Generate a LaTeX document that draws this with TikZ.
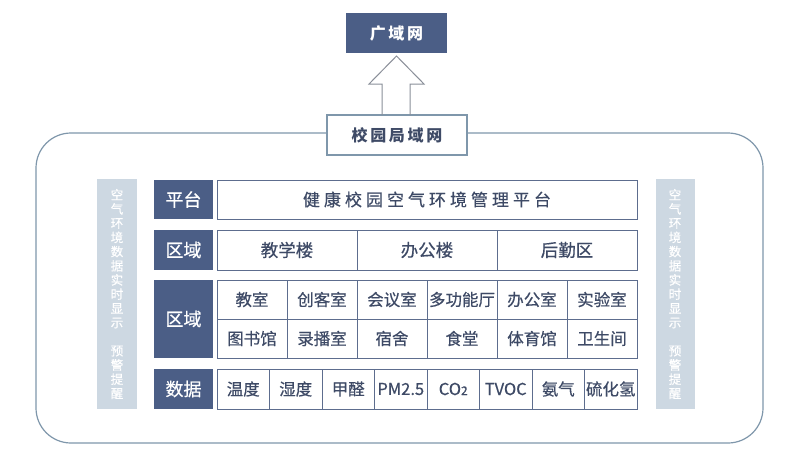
\documentclass[tikz,border=0pt]{standalone}
\usepackage{fontspec}
\setmainfont{Noto Sans CJK SC}
\newfontfamily\medf{Noto Sans CJK SC}[FakeBold=0.5]
\begin{document}
\begin{tikzpicture}[x=1pt,y=-1pt,
  darkc/.style={fill=hdr,draw=none,text=white,font=\medf\fontsize{18}{18}\selectfont},
  cell/.style={draw=cellb,line width=1pt,fill=white,text=txt,font=\medf\fontsize{16.5}{16.5}\selectfont,inner sep=0pt},
  side/.style={fill=sidef,draw=none,text=white,font=\medf\fontsize{12.5}{14.2}\selectfont,align=center,inner sep=0pt},
  outline/.style={draw=outb,line width=1.2pt}
]
\definecolor{hdr}{HTML}{4B5E86}
\definecolor{cellb}{HTML}{5D6D8E}
\definecolor{txt}{HTML}{3E4A66}
\definecolor{sidef}{HTML}{CDD8E2}
\definecolor{outb}{HTML}{7F97AB}
\definecolor{arrc}{HTML}{8A8F99}
\useasboundingbox (0,0) rectangle (800,456);
\fill[white] (0,0) rectangle (800,456);

% top WAN box
\node[darkc,minimum width=101pt,minimum height=40pt,font=\fontsize{16}{16}\selectfont\bfseries] (wan) at (396.5,33) {广\,域\,网};

% campus LAN box
\node[draw=outb,line width=1.2pt,fill=white,text=txt,minimum width=140pt,minimum height=40pt,font=\fontsize{16}{16}\selectfont\bfseries] (lan) at (397,135) {校\,园\,局\,域\,网};

% outer rounded frame
\draw[outline,rounded corners=35pt] (lan.west |- 0,133) -- (36,133) -- (36,443) -- (763,443) -- (763,133) -- (lan.east |- 0,133);

% hollow arrow
\draw[arrc,line width=1pt,line join=miter] (382,115) -- (382,84) -- (369,84) -- (396.5,56) -- (424,84) -- (410,84) -- (410,115);

% side bars
\node[side,minimum width=40pt,minimum height=230pt] (sl) at (117,294) {空\\气\\环\\境\\数\\据\\实\\时\\显\\示\\[14pt]预\\警\\提\\醒};
\node[side,minimum width=39pt,minimum height=230pt] (sr) at (675,294) {空\\气\\环\\境\\数\\据\\实\\时\\显\\示\\[14pt]预\\警\\提\\醒};

% left labels
\node[darkc,minimum width=59pt,minimum height=39pt] (lp) at (183.5,199.5) {平台};
\node[darkc,minimum width=59pt,minimum height=40pt] (lq) at (183.5,250) {区域};
\node[darkc,minimum width=59pt,minimum height=78pt] (lr) at (183.5,319) {区域};
\node[darkc,minimum width=59pt,minimum height=40pt] (ld) at (183.5,389) {数据};

% platform row
\node[cell,minimum width=420pt,minimum height=39pt,font=\medf\fontsize{17}{17}\selectfont] (plat) at (427,199.5) {健\hspace{4pt}康\hspace{4pt}校\hspace{4pt}园\hspace{4pt}空\hspace{4pt}气\hspace{4pt}环\hspace{4pt}境\hspace{4pt}管\hspace{4pt}理\hspace{4pt}平\hspace{4pt}台};

% area row
\node[cell,minimum width=140pt,minimum height=40pt,font=\medf\fontsize{17.5}{17.5}\selectfont] (a1) at (287,250) {教学楼};
\node[cell,minimum width=140pt,minimum height=40pt,font=\medf\fontsize{17.5}{17.5}\selectfont] (a2) at (427,250) {办公楼};
\node[cell,minimum width=140pt,minimum height=40pt,font=\medf\fontsize{17.5}{17.5}\selectfont] (a3) at (567,250) {后勤区};

% rooms
\foreach \t [count=\i from 0] in {教室,创客室,会议室,多功能厅,办公室,实验室}{
  \node[cell,minimum width=70pt,minimum height=39pt] (r1\i) at (252+70*\i,299.5) {\t};
}
\foreach \t [count=\i from 0] in {图书馆,录播室,宿舍,食堂,体育馆,卫生间}{
  \node[cell,minimum width=70pt,minimum height=39pt] (r2\i) at (252+70*\i,338.5) {\t};
}

% data
\foreach \t [count=\i from 0] in {温度,湿度,甲醛,PM2.5,CO{\fontsize{12}{12}\selectfont 2},TVOC,氨气,硫化氢}{
  \node[cell,minimum width=52.5pt,minimum height=40pt] (d\i) at (243.25+52.5*\i,389) {\t};
}
\end{tikzpicture}
\end{document}
